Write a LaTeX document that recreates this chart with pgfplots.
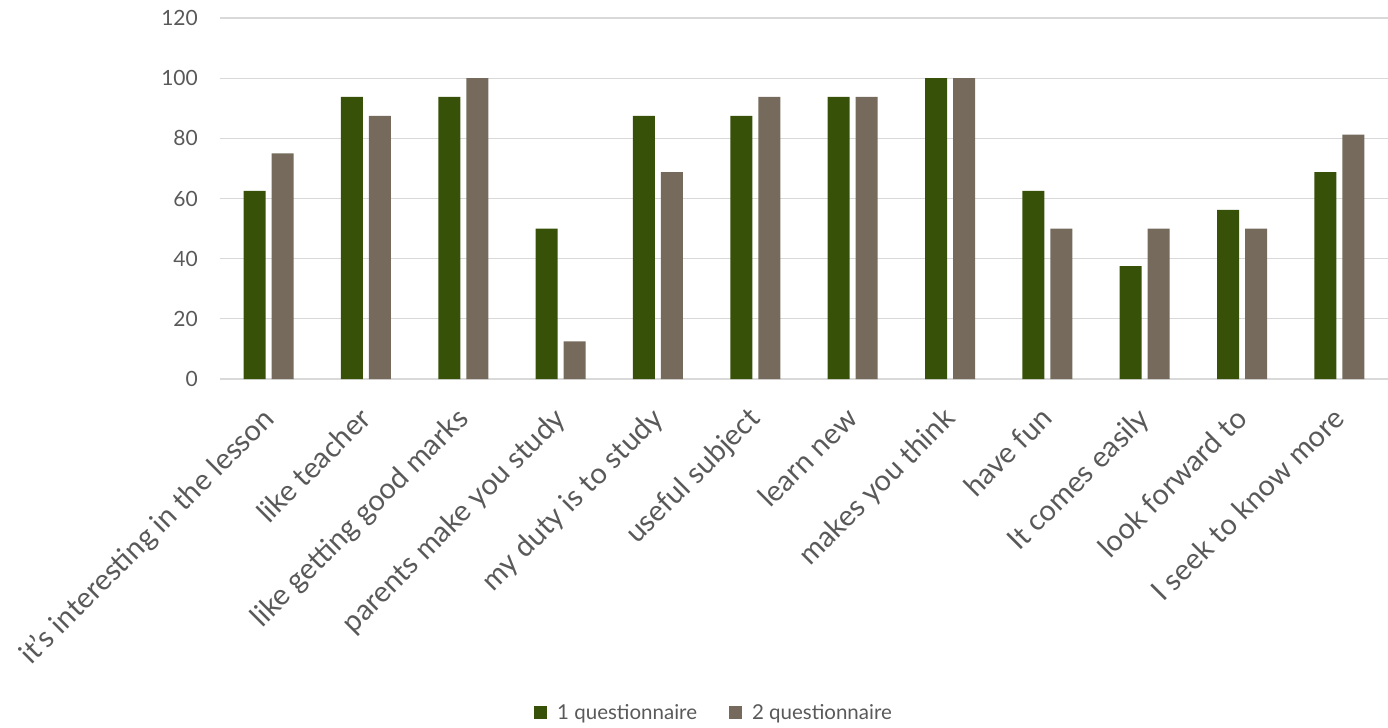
\documentclass[border=0pt]{standalone}
\usepackage{pgfplots}
\pgfplotsset{compat=1.18}
\usepackage{fontspec}
\setmainfont{Lato}
\definecolor{qone}{HTML}{375109}
\definecolor{qtwo}{HTML}{756A5B}
\definecolor{gridgray}{HTML}{D9D9D9}
\definecolor{labelgray}{HTML}{595959}

\pgfplotstableread{
idx q1 q2
0 62.5 75
1 93.75 87.5
2 93.75 100
3 50 12.5
4 87.5 68.75
5 87.5 93.75
6 93.75 93.75
7 100 100
8 62.5 50
9 37.5 50
10 56.25 50
11 68.75 81.25
}\survey

\begin{document}
\begin{tikzpicture}
\useasboundingbox (-220bp,-349bp) rectangle (1168bp,379bp);
\begin{axis}[
  at={(0,0)}, anchor=south west,
  scale only axis,
  width=1168bp, height=361bp,
  xmin=-0.5, xmax=11.5,
  ymin=0, ymax=120,
  ytick={0,20,...,120},
  xtick=data,
  xticklabels={{it’s interesting in the lesson},{like teacher},{like getting good marks},{parents make you study},{my duty is to study},{useful subject},{learn new},{makes you think},{have fun},{It comes easily},{look forward to},{I seek to know more}},
  ybar=6bp, bar width=22bp,
  axis line style={draw=none},
  major tick style={draw=none},
  ymajorgrids,
  grid style={gridgray, line width=1.2bp},
  tick label style={text=labelgray},
  /pgf/number format/assume math mode=true,
  yticklabel style={font=\fontsize{21bp}{24bp}\selectfont, anchor=east, inner sep=0pt, xshift=-22bp},
  xticklabel style={font=\fontsize{29bp}{33bp}\selectfont, rotate=45, anchor=north east, inner sep=0pt, xshift=-21.5bp, yshift=-9.5bp},
  legend style={at={(0.423,-0.925)}, anchor=center, draw=none, fill=none,
    legend columns=2, font=\fontsize{20.5bp}{23bp}\selectfont, text=labelgray,
    /tikz/every odd column/.append style={column sep=8bp},
    /tikz/every even column/.append style={column sep=30bp}},
  legend image code/.code={\fill[#1] (0bp,-6bp) rectangle (13bp,7bp);},
]
\addplot[fill=qone, draw=none] table[x=idx, y=q1] {\survey};
\addplot[fill=qtwo, draw=none] table[x=idx, y=q2] {\survey};
\legend{1 questionnaire, 2 questionnaire}
\end{axis}
\end{tikzpicture}
\end{document}
